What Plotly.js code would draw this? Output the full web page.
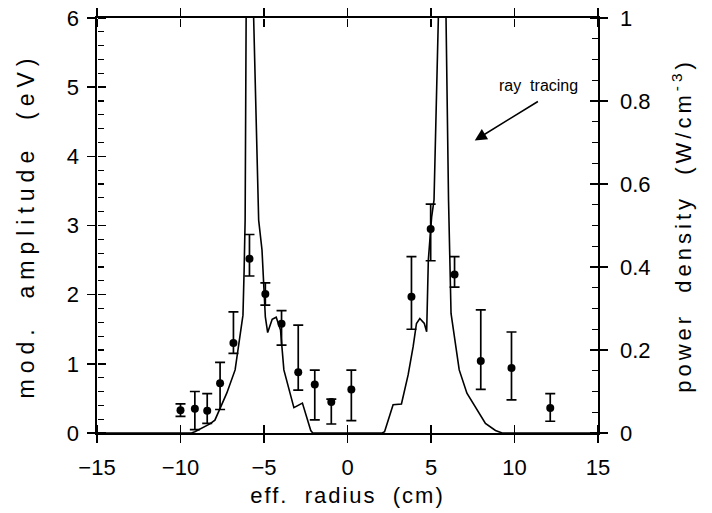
<!DOCTYPE html>
<html>
<head>
<meta charset="utf-8">
<script src="https://cdn.plot.ly/plotly-3.0.1.min.js"></script>
<style>
html,body{margin:0;padding:0;background:#fff;}
.xtitle{letter-spacing:2px;}
.ytitle{letter-spacing:6px;}
.y2title{letter-spacing:4px;}
</style>
</head>
<body>
<div id="chart" style="width:712px;height:513px;"></div>
<script>
// measured modulation amplitude (eV) with error bars (upper / lower ends)
const ampX  = [-10.0, -9.14, -8.40, -7.63, -6.83, -5.87, -4.92, -3.95, -2.95, -1.96, -0.97, 0.23, 3.83, 4.98, 6.41, 7.98, 9.82, 12.14];
const ampY  = [0.33, 0.35, 0.32, 0.72, 1.30, 2.52, 2.01, 1.58, 0.88, 0.70, 0.45, 0.63, 1.97, 2.95, 2.29, 1.04, 0.94, 0.36];
const ampHi = [0.42, 0.60, 0.57, 1.02, 1.75, 2.87, 2.17, 1.77, 1.56, 0.91, 0.49, 0.91, 2.55, 3.31, 2.55, 1.78, 1.46, 0.57];
const ampLo = [0.24, 0.05, 0.14, 0.34, 1.15, 2.27, 1.85, 1.27, 0.62, 0.19, 0.13, 0.18, 1.50, 2.49, 2.11, 0.63, 0.48, 0.17];

// ray tracing power density (W/cm^-3), right axis
const rayX = [-15, -9.34, -9.14, -8.24, -7.94, -7.63, -7.23, -6.73, -6.53, -6.26, -6.19, -6.13, -6.07, -5.85, -5.62, -5.32, -5.12, -5.02, -4.92, -4.78, -4.51, -4.27, -4.01, -3.81, -3.51, -3.21, -2.70, -2.20, -2.08,
              2.08, 2.22, 2.73, 3.23, 3.63, 3.93, 4.13, 4.33, 4.60, 4.74, 4.84, 5.04, 5.18, 5.44, 5.70, 5.90, 6.05, 6.20, 6.41, 6.69, 7.15, 7.71, 8.26, 8.86, 9.26, 15];
const rayP = [0, 0, 0.003, 0.022, 0.031, 0.06, 0.096, 0.152, 0.208, 0.284, 0.393, 0.513, 1.0, 1.3, 1.0, 0.513, 0.441, 0.361, 0.28, 0.242, 0.274, 0.279, 0.248, 0.152, 0.104, 0.061, 0.072, 0.006, 0,
              0, 0.003, 0.068, 0.07, 0.14, 0.208, 0.264, 0.276, 0.264, 0.244, 0.417, 0.521, 0.561, 1.0, 1.3, 1.0, 0.561, 0.288, 0.224, 0.152, 0.096, 0.06, 0.023, 0.006, 0, 0];

const xRange = [-15, 15];
const yLeftRange = [0, 6];
const yRightRange = [0, 1];

const plus = ampHi.map((h, i) => h - ampY[i]);
const minus = ampY.map((v, i) => v - ampLo[i]);

const fam = 'Liberation Sans, Arial, sans-serif';
const tickFont = {family: fam, size: 22, color: '#000'};
const titleFont = {family: fam, size: 22, color: '#000'};

const hidden = {mode: 'markers', marker: {opacity: 0}, showlegend: false, hoverinfo: 'skip'};
const traces = [
  {
    x: rayX, y: rayP, xaxis: 'x', yaxis: 'y2', type: 'scatter', mode: 'lines',
    line: {color: '#000', width: 1.6}, hoverinfo: 'skip', showlegend: false
  },
  {
    x: ampX, y: ampY, xaxis: 'x', yaxis: 'y', type: 'scatter', mode: 'markers',
    marker: {color: '#000', size: 8, symbol: 'circle'},
    error_y: {type: 'data', symmetric: false, array: plus, arrayminus: minus, color: '#000', thickness: 1.7, width: 5},
    showlegend: false
  },
  // invisible helper traces so the inward-tick axes get drawn
  Object.assign({x: ampX, y: ampY, xaxis: 'x2', yaxis: 'y'}, hidden),
  Object.assign({x: ampX, y: ampY, xaxis: 'x3', yaxis: 'y'}, hidden),
  Object.assign({x: ampX, y: ampY, xaxis: 'x', yaxis: 'y3'}, hidden),
  Object.assign({x: rayX, y: rayP, xaxis: 'x', yaxis: 'y4'}, hidden)
];

const tk = {tickcolor: '#000', tickwidth: 1.5, ticklen: 8, showgrid: false, zeroline: false};
const inward = {ticks: 'outside', showticklabels: false, showline: false, anchor: 'free'};

const layout = {
  width: 712, height: 513,
  margin: {l: 97, r: 114, t: 18, b: 80},
  paper_bgcolor: '#fff', plot_bgcolor: '#fff',
  showlegend: false,
  // outer ticks + labels
  xaxis: Object.assign({}, tk, {
    range: xRange, tickmode: 'linear', tick0: -15, dtick: 5,
    ticks: 'outside', showline: true, linecolor: '#000', linewidth: 1.6, mirror: 'allticks',
    tickfont: tickFont, ticklabelstandoff: 6,
    title: {text: 'eff.  radius  (cm)', font: titleFont, standoff: 8}
  }),
  yaxis: Object.assign({}, tk, {
    range: yLeftRange, tickmode: 'linear', tick0: 0, dtick: 1,
    ticks: 'outside', showline: true, linecolor: '#000', linewidth: 1.6,
    tickfont: tickFont, ticklabelstandoff: 4,
    title: {text: 'mod.  amplitude  (eV)', font: {family: fam, size: 23, color: '#000'}, standoff: 26}
  }),
  yaxis2: Object.assign({}, tk, {
    range: yRightRange, overlaying: 'y', anchor: 'x', side: 'right', tickmode: 'linear', tick0: 0, dtick: 0.2,
    ticks: 'outside', showline: true, linecolor: '#000', linewidth: 1.6,
    tickfont: tickFont, ticklabelstandoff: 8,
    title: {text: 'power  density  (W/cm<sup>-3</sup>)', font: titleFont, standoff: 26}
  }),
  // inward ticks: axes placed on the opposite edge so their outside ticks point into the plot
  xaxis2: Object.assign({}, tk, inward, {
    range: xRange, overlaying: 'x', side: 'top', position: 0, tickmode: 'linear', tick0: -15, dtick: 5
  }),
  xaxis3: Object.assign({}, tk, inward, {
    range: xRange, overlaying: 'x', side: 'bottom', position: 1, tickmode: 'linear', tick0: -15, dtick: 5
  }),
  yaxis3: Object.assign({}, tk, inward, {
    range: yLeftRange, overlaying: 'y', side: 'right', position: 0, tickmode: 'linear', tick0: 0, dtick: 1,
    minor: {dtick: 0.2, ticks: 'outside', ticklen: 6, tickwidth: 1.2, tickcolor: '#000', showgrid: false}
  }),
  yaxis4: Object.assign({}, tk, inward, {
    range: yRightRange, overlaying: 'y', side: 'left', position: 1, tickmode: 'linear', tick0: 0, dtick: 0.2,
    minor: {dtick: 0.05, ticks: 'outside', ticklen: 6, tickwidth: 1.2, tickcolor: '#000', showgrid: false}
  }),
  annotations: [
    {
      x: 7.62, y: 4.23, xref: 'x', yref: 'y', ax: 11.58, ay: 4.82, axref: 'x', ayref: 'y',
      text: ' ', showarrow: true, arrowhead: 2, arrowsize: 1.5, arrowwidth: 1.6, arrowcolor: '#000'
    },
    {
      x: 11.45, y: 5.03, xref: 'x', yref: 'y', text: 'ray  tracing', showarrow: false,
      font: {family: fam, size: 16, color: '#000'}
    }
  ]
};

Plotly.newPlot('chart', traces, layout, {displayModeBar: false, staticPlot: true});
</script>
</body>
</html>
